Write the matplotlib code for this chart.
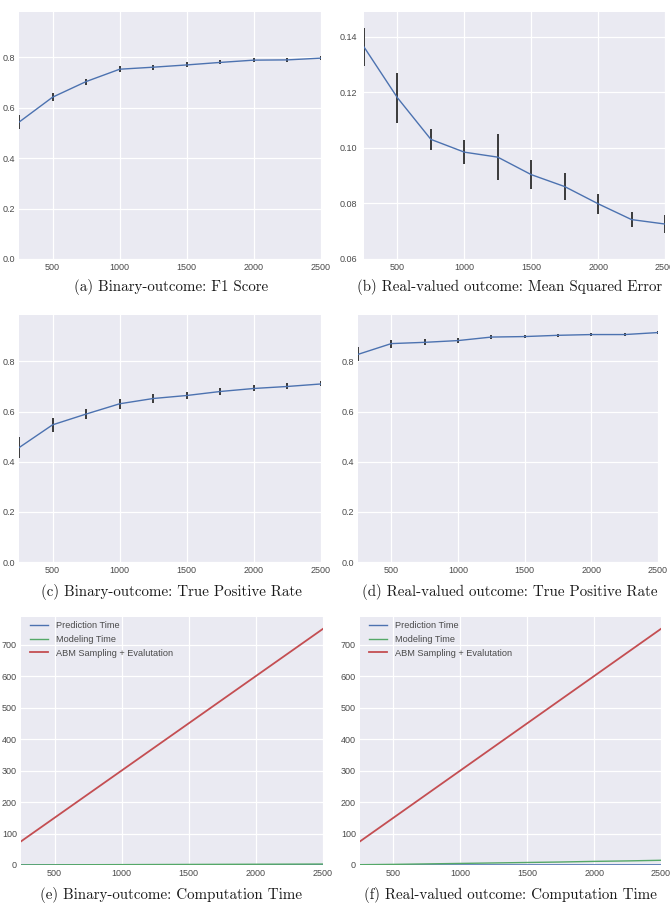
import numpy as np
import matplotlib
matplotlib.use("Agg")
import matplotlib.pyplot as plt

plt.rcParams["font.family"] = ["Liberation Sans", "DejaVu Sans"]

sizes = [250, 500, 750, 1000, 1250, 1500, 1750, 2000, 2250, 2500]

f1_bin = [0.543, 0.642, 0.704, 0.753, 0.761, 0.770, 0.780, 0.789, 0.790, 0.797]
f1_bin_err = [0.028, 0.016, 0.012, 0.012, 0.010, 0.010, 0.008, 0.008, 0.008, 0.008]

mse_real = [0.1364, 0.1181, 0.1031, 0.0985, 0.0967, 0.0904, 0.0861, 0.0799, 0.0742, 0.0726]
mse_real_err = [0.0067, 0.0091, 0.0039, 0.0042, 0.0082, 0.0052, 0.0049, 0.0036, 0.0028, 0.0033]

tpr_bin = [0.456, 0.547, 0.590, 0.631, 0.652, 0.664, 0.680, 0.692, 0.700, 0.710]
tpr_bin_err = [0.043, 0.028, 0.020, 0.019, 0.016, 0.015, 0.013, 0.012, 0.012, 0.010]

tpr_real = [0.828, 0.871, 0.876, 0.883, 0.897, 0.899, 0.904, 0.907, 0.907, 0.915]
tpr_real_err = [0.028, 0.016, 0.012, 0.010, 0.008, 0.007, 0.007, 0.006, 0.006, 0.006]

pred_time_bin = [0.1, 0.1, 0.2, 0.2, 0.3, 0.3, 0.4, 0.4, 0.5, 0.5]
model_time_bin = [0.3, 0.6, 0.9, 1.2, 1.5, 1.8, 2.1, 2.4, 2.7, 3.0]
abm_time_bin = [75, 150, 225, 300, 375, 450, 525, 600, 675, 750]

pred_time_real = [0.1, 0.1, 0.2, 0.2, 0.3, 0.3, 0.4, 0.4, 0.5, 0.5]
model_time_real = [1.0, 2.0, 3.5, 5.0, 6.5, 8.0, 9.5, 11.5, 13.0, 15.0]
abm_time_real = [75, 150, 225, 300, 375, 450, 525, 600, 675, 750]

captions = ["(a) Binary-outcome: F1 Score",
            "(b) Real-valued outcome: Mean Squared Error",
            "(c) Binary-outcome: True Positive Rate",
            "(d) Real-valued outcome: True Positive Rate",
            "(e) Binary-outcome: Computation Time",
            "(f) Real-valued outcome: Computation Time"]

W, H = 670, 917
fig = plt.figure(figsize=(W / 100, H / 100), dpi=100)
fig.patch.set_facecolor("white")

blue = "#4C72B0"
green = "#55A868"
red = "#C44E52"


def make_ax(l, r, t, b):
    ax = fig.add_axes([l / W, 1 - b / H, (r - l) / W, (b - t) / H])
    ax.set_facecolor("#EAEAF2")
    for s in ax.spines.values():
        s.set_visible(False)
    ax.grid(True, color="white", linewidth=0.9)
    ax.set_axisbelow(True)
    ax.tick_params(length=0, labelsize=6.5, labelcolor="#4a4a4a", pad=3)
    ax.set_xlim(250, 2500)
    ax.set_xticks([500, 1000, 1500, 2000, 2500])
    return ax


def err_plot(ax, y, e):
    ax.errorbar(sizes, y, yerr=e, color=blue, linewidth=1,
                ecolor="#3a3a3a", elinewidth=1.4, capsize=0)


ax = make_ax(19, 321, 12, 259)
err_plot(ax, f1_bin, f1_bin_err)
ax.set_ylim(0, 0.98)
ax.set_yticks([0.0, 0.2, 0.4, 0.6, 0.8])

ax = make_ax(364, 665, 12, 259)
err_plot(ax, mse_real, mse_real_err)
ax.set_ylim(0.06, 0.149)
ax.set_yticks([0.06, 0.08, 0.10, 0.12, 0.14])
ax.tick_params(axis="y", pad=5)

ax = make_ax(19, 321, 315, 562)
err_plot(ax, tpr_bin, tpr_bin_err)
ax.set_ylim(0, 0.985)
ax.set_yticks([0.0, 0.2, 0.4, 0.6, 0.8])

ax = make_ax(358, 658, 315, 562)
err_plot(ax, tpr_real, tpr_real_err)
ax.set_ylim(0, 0.985)
ax.set_yticks([0.0, 0.2, 0.4, 0.6, 0.8])

for (l, r), pt, mt, at in [((21, 323), pred_time_bin, model_time_bin, abm_time_bin),
                           ((360, 661), pred_time_real, model_time_real, abm_time_real)]:
    ax = make_ax(l, r, 617, 865)
    ax.plot(sizes, pt, color=blue, linewidth=1, label="Prediction Time")
    ax.plot(sizes, mt, color=green, linewidth=1, label="Modeling Time")
    ax.plot(sizes, at, color=red, linewidth=1.3, label="ABM Sampling + Evalutation")
    ax.set_ylim(0, 787.5)
    ax.set_yticks([0, 100, 200, 300, 400, 500, 600, 700])
    leg = ax.legend(loc="upper left", bbox_to_anchor=(0.018, 0.997), frameon=False,
                    fontsize=6.6, handlelength=2.0, handletextpad=0.85,
                    borderaxespad=0, labelspacing=0.5)
    for t in leg.get_texts():
        t.set_color("#4a4a4a")

cap_pos = [(171, 287), (510, 287), (171, 592), (510, 592), (171, 895), (510, 895)]
for (x, y), c in zip(cap_pos, captions):
    fig.text(x / W, 1 - y / H, c, ha="center", va="center", fontsize=10.8,
             family="cmr10", color="#1a1a1a")

fig.savefig("out.png", dpi=100)
